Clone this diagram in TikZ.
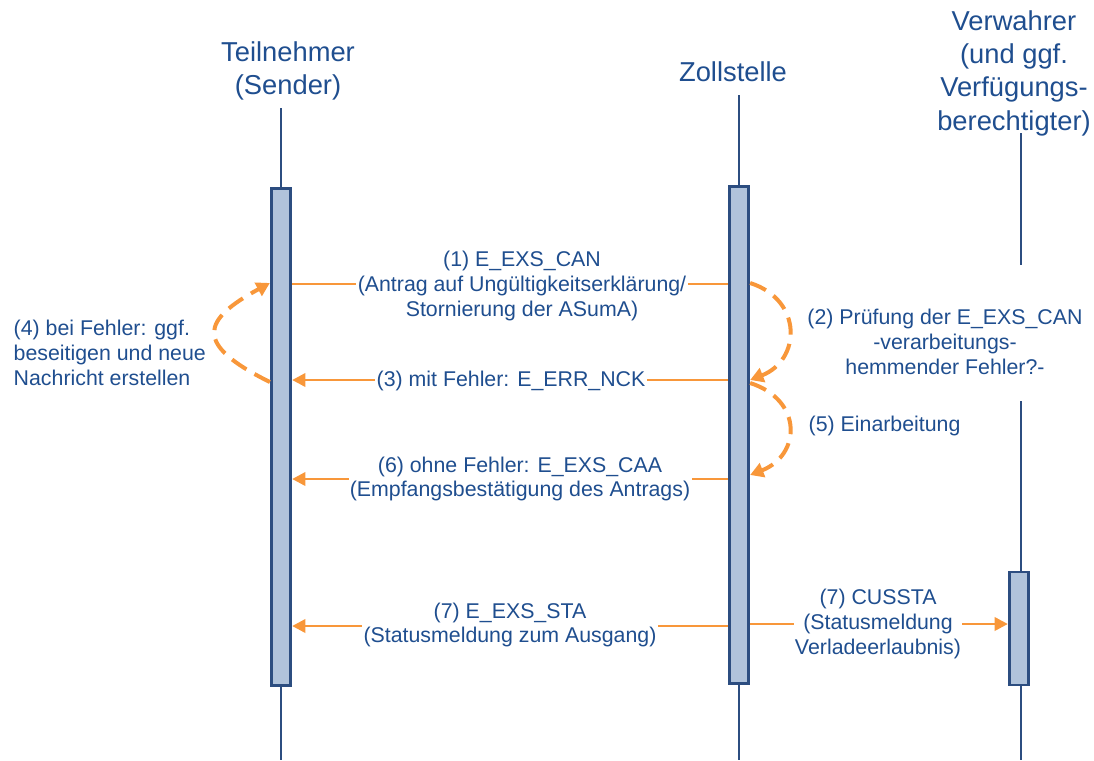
\documentclass[tikz,border=0pt]{standalone}
\usepackage{fontspec}
\setmainfont{Liberation Sans}
\usetikzlibrary{arrows.meta,positioning}
\definecolor{lifeblue}{HTML}{2C4D80}
\definecolor{barfill}{HTML}{B0C3DB}
\definecolor{textblue}{HTML}{1F4E8F}
\definecolor{msgorange}{HTML}{F8973A}

\begin{document}
\begin{tikzpicture}[x=0.75pt,y=-0.75pt,
	actor/.style={text=textblue,font=\fontsize{20.5}{25}\selectfont,align=center},
	bar/.style={draw=lifeblue,line width=2.2pt,fill=barfill,minimum width=14.5pt,inner sep=0pt},
	life/.style={draw=lifeblue,line width=2.2pt},
	msg/.style={text=textblue,font=\fontsize{16}{18.5}\selectfont,align=center,fill=white,inner sep=1pt},
	note/.style={text=textblue,font=\fontsize{16}{19}\selectfont},
	call/.style={draw=msgorange,line width=2.2pt},
	reply/.style={call,-{Triangle[length=10pt,width=10pt]}},
	loopback/.style={draw=msgorange,line width=3pt,dash pattern=on 13pt off 7pt,-{Triangle[length=10pt,width=11pt]}}]
			\useasboundingbox (0,0) rectangle (1094,760);
			% participants
			\node[actor] (teil) at (288,71) {Teilnehmer\\(Sender)};
			\node[actor] (zoll) at (733,72) {Zollstelle};
			\node[actor] (verw) at (1014,73) {Verwahrer\\(und ggf.\\Verfügungs-\\berechtigter)};
			\node[bar,minimum height=372.75pt] (tbar) at (281,437) {};
			\node[bar,minimum height=372.75pt] (zbar) at (739,435) {};
			\node[bar,minimum height=84.75pt] (vbar) at (1019,628.5) {};
			\coordinate (ttop) at (281,108);
			\coordinate (tbot) at (281,760);
			\coordinate (ztop) at (739,95);
			\coordinate (zbot) at (739,760);
			\coordinate (vtop) at (1021,133);
			\coordinate (vcut) at (1021,265);
			\coordinate (vgo) at (1021,401);
			\coordinate (vbot) at (1021,760);
			\path[life]
			(ttop) edge (tbar.north)
			(tbar.south) edge (tbot)
			(ztop) edge (zbar.north)
			(zbar.south) edge (zbot)
			(vtop) edge (vcut)
			(vgo) edge (vgo |- vbar.north)
			(vbot |- vbar.south) edge (vbot);
			% messages
			\draw[call] (zbar.west |- 0,284) -- (tbar.east |- 0,284);
			\draw[reply] (zbar.west |- 0,380) -- (tbar.east |- 0,380);
			\draw[reply] (zbar.west |- 0,479) -- (tbar.east |- 0,479);
			\draw[reply] (zbar.west |- 0,626) -- (tbar.east |- 0,626);
			\draw[reply] (zbar.east |- 0,624) -- (vbar.west |- 0,624);
			\node[msg] (m1) at (522,286) {(1) E\_EXS\_CAN\\(Antrag auf Ungültigkeitserklärung/\\Stornierung der ASumA)};
			\node[msg] (m3) at (511,381) {(3) mit Fehler: E\_ERR\_NCK};
			\node[msg] (m6) at (520,479) {(6) ohne Fehler: E\_EXS\_CAA\\(Empfangsbestätigung des Antrags)};
			\node[msg] (m7) at (510,625) {(7) E\_EXS\_STA\\(Statusmeldung zum Ausgang)};
			\node[msg] (m7b) at (878,624) {(7) CUSSTA\\(Statusmeldung\\Verladeerlaubnis)};
			% self checks
			\draw[loopback] (tbar.west |- 0,382) .. controls +(-77,-38) and +(-68,37) .. (tbar.west |- 0,283);
			\draw[loopback] (zbar.east |- 0,283) .. controls +(53,17) and +(51,-20) .. (zbar.east |- 0,380);
			\draw[loopback] (zbar.east |- 0,383) .. controls +(53,17) and +(51,-20) .. (zbar.east |- 0,475);
			\node[note,align=left,anchor=west] (n4) at (9,353) {(4) bei Fehler: ggf.\\beseitigen und neue\\Nachricht erstellen};
			\node[note,align=center] (n2) at (945,342) {(2) Prüfung der E\_EXS\_CAN\\-verarbeitungs-\\hemmender Fehler?-};
			\node[note,anchor=west] (n5) at (804,426) {(5) Einarbeitung};
		\end{tikzpicture}
\end{document}
